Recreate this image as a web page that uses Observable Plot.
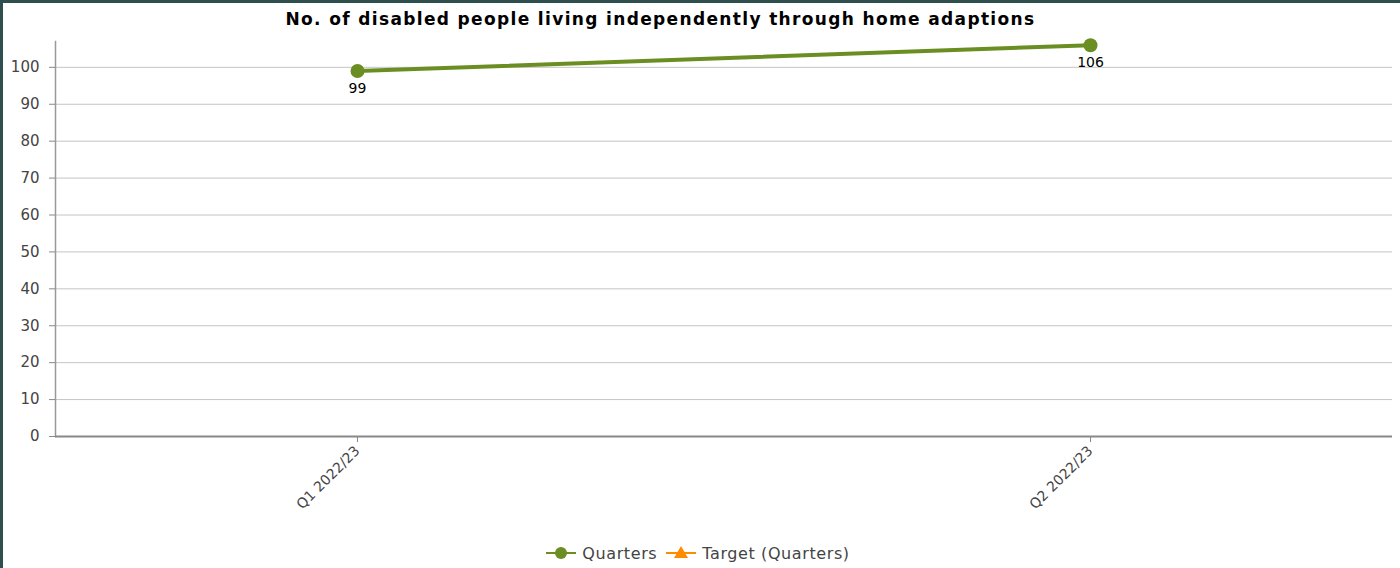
<!DOCTYPE html>
<html>
<head>
<meta charset="utf-8">
<script src="https://cdn.jsdelivr.net/npm/d3@7"></script>
<script src="https://cdn.jsdelivr.net/npm/@observablehq/plot@0.6"></script>
<style>
  html, body { margin: 0; padding: 0; background: #fff; }
  #frame { width: 1397px; height: 565px; border-top: 3px solid #2f4f4f; border-left: 3px solid #2f4f4f; position: relative; overflow: hidden; font-family: "DejaVu Sans", sans-serif; }
  #title { height: 27px; line-height: 32px; text-align: center; font-weight: bold; font-size: 17px; letter-spacing: 1.35px; color: #000; padding-right: 82px; }
  #chart svg { display: block; }
  #legend { position: absolute; left: 0; width: 1389px; top: 538px; height: 24px; display: flex; justify-content: center; align-items: center; font-size: 16px; letter-spacing: 0.6px; color: #444; }
  #legend .item { display: flex; align-items: center; margin: 0 4px; }
  #legend svg { margin-right: 5px; }
</style>
</head>
<body>
<div id="frame">
  <div id="title"></div>
  <div id="chart"></div>
  <div id="legend"></div>
</div>
<script>
const titleText = "No. of disabled people living independently through home adaptions";
const quarters = ["Q1 2022/23", "Q2 2022/23"];
const quarterValues = [99, 106];
const targetValues = [];
const seriesNames = ["Quarters", "Target (Quarters)"];
const seriesColors = ["#6b8e23", "#ff8c00"];
const yTicks = [0, 10, 20, 30, 40, 50, 60, 70, 80, 90, 100];

document.getElementById("title").textContent = titleText;

const data = quarters.map((q, i) => ({quarter: q, value: quarterValues[i]}));

const chart = Plot.plot({
  width: 1397,
  height: 500,
  marginTop: 11,
  marginBottom: 94,
  marginLeft: 52,
  marginRight: 8,
  style: {fontFamily: "DejaVu Sans, sans-serif", fontSize: "15px", color: "#444", background: "#fff"},
  x: {type: "point", domain: quarters, padding: 0.412, label: null},
  y: {domain: [0, 107], label: null},
  marks: [
    Plot.gridY(yTicks, {stroke: "#c4c4c4", strokeOpacity: 1, strokeWidth: 1}),
    Plot.axisY(yTicks, {tickSize: 6, tickPadding: 10, stroke: "#888", fill: "#444", fontSize: 15, label: null}),
    Plot.frame({anchor: "left", stroke: "#999", strokeWidth: 1.5}),
    Plot.ruleY([0], {stroke: "#888", strokeWidth: 2}),
    Plot.axisX(quarters, {tickSize: 6, tickPadding: 6, stroke: "#888", tickRotate: -45, textAnchor: "end", fill: "#444", fontSize: 14, label: null}),
    Plot.line(data, {x: "quarter", y: "value", stroke: seriesColors[0], strokeWidth: 4}),
    Plot.dot(data, {x: "quarter", y: "value", r: 7, fill: seriesColors[0], stroke: null}),
    Plot.text(data, {x: "quarter", y: "value", text: d => String(d.value), dy: 17, fill: "#000", fontSize: 14})
  ]
});
document.getElementById("chart").appendChild(chart);

// Legend
const legend = d3.select("#legend");
seriesNames.forEach((name, i) => {
  const item = legend.append("div").attr("class", "item");
  const s = item.append("svg").attr("width", 32).attr("height", 16);
  s.append("line").attr("x1", 1).attr("x2", 31).attr("y1", 8).attr("y2", 8)
    .attr("stroke", seriesColors[i]).attr("stroke-width", 2);
  if (i === 0) {
    s.append("circle").attr("cx", 16).attr("cy", 8).attr("r", 6).attr("fill", seriesColors[i]);
  } else {
    s.append("path").attr("d", "M16,1 L23,13 L9,13 Z").attr("fill", seriesColors[i]);
  }
  item.append("span").text(name);
});
</script>
</body>
</html>
